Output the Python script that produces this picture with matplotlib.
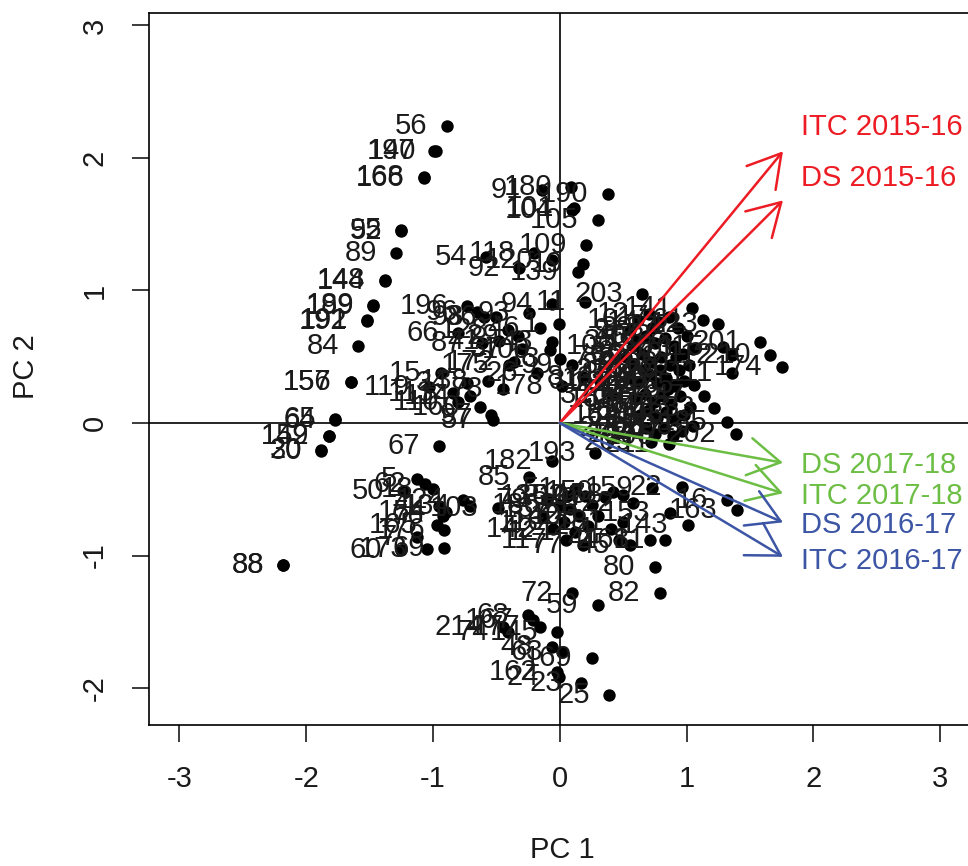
import matplotlib
matplotlib.use('Agg')
import matplotlib.pyplot as plt

plt.rcParams['font.family'] = ['Liberation Sans', 'DejaVu Sans']
plt.rcParams['axes.unicode_minus'] = False

# genotype scores (label, PC1, PC2), by region
upper_left = [('56', -0.89, 2.24), ('197', -0.99, 2.05), ('140', -0.98, 2.05),
              ('166', -1.07, 1.85), ('168', -1.07, 1.86), ('95', -1.25, 1.46),
              ('52', -1.25, 1.45), ('89', -1.29, 1.28), ('144', -1.38, 1.07),
              ('148', -1.38, 1.08), ('199', -1.47, 0.88), ('189', -1.47, 0.89),
              ('191', -1.52, 0.78), ('192', -1.52, 0.77), ('84', -1.59, 0.58),
              ('156', -1.65, 0.31), ('157', -1.65, 0.31), ('65', -1.77, 0.03),
              ('64', -1.77, 0.02), ('152', -1.82, -0.10), ('149', -1.82, -0.10),
              ('20', -1.88, -0.20), ('30', -1.88, -0.21), ('67', -0.95, -0.17),
              ('88', -2.18, -1.07), ('38', -2.18, -1.07)]

lower_left = [('50', -1.23, -0.51), ('5', -1.13, -0.42), ('62', -1.06, -0.46),
              ('18', -1.00, -0.50), ('71', -0.95, -0.63), ('154', -0.90, -0.67),
              ('124', -0.76, -0.58), ('134', -0.71, -0.63), ('103', -0.49, -0.64),
              ('165', -0.97, -0.77), ('176', -0.91, -0.81), ('7', -1.13, -0.86),
              ('60', -1.25, -0.96), ('173', -1.05, -0.95), ('69', -0.91, -0.94),
              ('76', -0.92, -0.70)]

middle = [('196', -0.73, 0.88), ('96', -0.65, 0.84), ('98', -0.60, 0.80),
          ('36', -0.50, 0.80), ('93', -0.24, 0.83), ('94', -0.06, 0.90),
          ('1', -0.01, 0.75), ('46', -0.16, 0.72), ('128', -0.41, 0.70),
          ('66', -0.80, 0.68), ('87', -0.61, 0.60), ('43', -0.06, 0.61),
          ('100', -0.08, 0.55), ('13', 0.00, 0.48), ('99', 0.10, 0.44),
          ('8', 0.18, 0.35), ('175', -0.40, 0.44), ('26', -0.18, 0.38),
          ('138', -0.57, 0.32), ('78', -0.45, 0.26), ('15', -0.94, 0.38),
          ('34', -0.73, 0.30), ('113', -0.84, 0.23), ('114', -0.71, 0.20),
          ('160', -0.63, 0.12), ('97', -0.54, 0.06), ('119', -1.03, 0.27),
          ('110', -0.80, 0.16), ('178', 0.02, 0.28), ('172', -0.36, 0.46),
          ('37', -0.30, 0.56), ('41', -0.48, 0.62), ('29', -0.33, 0.66),
          ('106', 0.58, 0.58), ('57', -0.53, 0.02), ('31', 0.32, 0.32),
          ('32', 0.41, 0.21)]

upper_mid = [('91', -0.14, 1.76), ('180', 0.09, 1.78), ('190', 0.38, 1.73),
             ('104', 0.10, 1.61), ('101', 0.11, 1.62), ('105', 0.30, 1.53),
             ('109', 0.21, 1.34), ('54', -0.58, 1.25), ('118', -0.20, 1.28),
             ('120', -0.06, 1.23), ('92', -0.32, 1.17), ('139', 0.14, 1.14),
             ('19', 0.18, 1.20), ('203', 0.65, 0.97), ('11', 0.20, 0.91)]

right_edge = [('141', 1.04, 0.87), ('61', 1.13, 0.78), ('123', 1.25, 0.75),
              ('201', 1.58, 0.61), ('210', 1.66, 0.51), ('174', 1.75, 0.42),
              ('115', 1.29, 0.57), ('112', 1.36, 0.51), ('111', 1.36, 0.38),
              ('55', 1.06, 0.29), ('47', 1.14, 0.20), ('33', 1.22, 0.11),
              ('185', 1.32, 0.01), ('202', 1.39, -0.08)]

right_blob = [('9', 0.55, 0.70), ('10', 0.62, 0.78), ('12', 0.70, 0.82), ('14', 0.78, 0.76),
              ('17', 0.86, 0.80), ('27', 0.93, 0.72), ('28', 1.00, 0.66), ('35', 0.60, 0.62),
              ('40', 0.68, 0.66), ('49', 0.75, 0.60), ('53', 0.83, 0.64), ('58', 0.90, 0.58),
              ('70', 0.97, 0.52), ('73', 1.05, 0.56), ('75', 0.52, 0.50), ('83', 0.58, 0.44),
              ('86', 0.65, 0.52), ('90', 0.72, 0.46), ('125', 0.80, 0.50), ('127', 0.87, 0.44),
              ('129', 0.94, 0.40), ('130', 1.02, 0.44), ('131', 0.55, 0.34), ('132', 0.62, 0.30),
              ('133', 0.70, 0.36), ('136', 0.77, 0.30), ('146', 0.84, 0.34), ('147', 0.91, 0.28),
              ('151', 0.98, 0.32), ('155', 0.60, 0.18), ('164', 0.67, 0.22), ('170', 0.74, 0.16),
              ('171', 0.81, 0.20), ('177', 0.88, 0.14), ('179', 0.95, 0.20), ('183', 1.03, 0.12),
              ('184', 0.63, 0.06), ('187', 0.70, 0.10), ('188', 0.77, 0.04), ('194', 0.84, 0.08),
              ('195', 0.91, 0.02), ('198', 0.98, 0.06), ('200', 0.68, -0.04), ('204', 0.75, -0.08),
              ('205', 0.82, -0.04), ('206', 0.89, -0.10), ('207', 0.96, -0.06), ('208', 1.05, -0.02),
              ('209', 0.72, -0.14), ('211', 0.86, -0.16), ('212', 0.79, 0.40), ('213', 0.66, 0.40),
              ('6', 0.92, 0.50), ('39', 0.73, 0.72), ('126', 0.85, 0.26)]

lower_right = [('193', 0.28, -0.23), ('182', -0.06, -0.29), ('85', -0.24, -0.41),
               ('135', 0.06, -0.55), ('51', 0.12, -0.50), ('102', 0.20, -0.55),
               ('137', 0.08, -0.65), ('42', 0.15, -0.70), ('21', 0.25, -0.62),
               ('116', 0.03, -0.75), ('121', 0.12, -0.82), ('2', 0.22, -0.78),
               ('142', -0.05, -0.80), ('117', 0.05, -0.88), ('108', 0.30, -0.70),
               ('107', 0.36, -0.56), ('150', 0.42, -0.52), ('158', 0.50, -0.54),
               ('181', 0.50, -0.75), ('44', 0.47, -0.88), ('45', 0.55, -0.92),
               ('161', 0.71, -0.88), ('81', 0.83, -0.88), ('159', 0.73, -0.49),
               ('22', 0.96, -0.48), ('153', 0.87, -0.68), ('143', 1.01, -0.77),
               ('16', 1.32, -0.58), ('163', 1.40, -0.66), ('80', 0.75, -1.09),
               ('82', 0.79, -1.28), ('122', 0.58, -0.60), ('4', 0.40, -0.80),
               ('3', -0.13, -0.70), ('77', 0.18, -0.92), ('79', -0.10, -0.58),
               ('186', 0.00, -0.62)]

bottom = [('72', 0.10, -1.28), ('59', 0.30, -1.37), ('68', -0.25, -1.45),
          ('167', -0.21, -1.49), ('177', -0.16, -1.54), ('214', -0.45, -1.54),
          ('74', -0.41, -1.58), ('145', -0.02, -1.58), ('48', -0.06, -1.69),
          ('63', 0.02, -1.73), ('169', 0.25, -1.77), ('162', -0.02, -1.88),
          ('24', -0.01, -1.92), ('23', 0.17, -1.96), ('25', 0.39, -2.05)]

# environment loading vectors
env_names = ['ITC 2015-16', 'DS 2015-16', 'DS 2017-18', 'ITC 2017-18', 'DS 2016-17', 'ITC 2016-17']
env_pc1 = [1.76, 1.76, 1.76, 1.76, 1.76, 1.76]
env_pc2 = [2.05, 1.68, -0.30, -0.53, -0.75, -1.01]
env_lab_y = [2.23, 1.85, -0.32, -0.55, -0.77, -1.04]
env_cols = ['#ED1C24', '#ED1C24', '#6DBE45', '#6DBE45', '#3C55A5', '#3C55A5']

pts = upper_left + lower_left + middle + upper_mid + right_edge + right_blob + lower_right + bottom
labs = [p[0] for p in pts]
pc1 = [p[1] for p in pts]
pc2 = [p[2] for p in pts]

fntsz = 21

fig = plt.figure(figsize=(9.68, 8.66), dpi=100)
ax = fig.add_axes([149/968, 141/866, 840/968, 712/866])
ax.set_xlim(-3.24, 3.385)
ax.set_ylim(-2.279, 3.094)

ax.axhline(0, color='black', lw=1.2, zorder=1)
ax.axvline(0, color='black', lw=1.2, zorder=1)

ax.scatter(pc1, pc2, s=80, c='black', linewidths=0, zorder=3)
for lab, x, y in zip(labs, pc1, pc2):
    ax.annotate(lab, (x, y), xytext=(-14, 0), textcoords='offset points',
                ha='right', va='center', fontsize=fntsz, color='#1a1a1a', zorder=4)

for nm, x, y, ly, col in zip(env_names, env_pc1, env_pc2, env_lab_y, env_cols):
    ax.annotate('', xy=(x, y), xytext=(0, 0),
                arrowprops=dict(arrowstyle='->,head_length=2.3,head_width=1.35',
                                mutation_scale=10, color=col, lw=1.8,
                                shrinkA=0, shrinkB=0), zorder=5)
    ax.text(1.90, ly, nm, color=col, fontsize=fntsz, ha='left', va='center', zorder=5)

ax.set_xticks(range(-3, 4))
ax.set_yticks(range(-2, 4))
ax.tick_params(length=12, width=1.2, pad=17, labelsize=fntsz, colors='#1a1a1a')
ax.tick_params(axis='y', labelrotation=90)
for t in ax.get_yticklabels():
    t.set_va('center')
for s in ax.spines.values():
    s.set_linewidth(1.2)

fig.text(562/968, 1 - 850/866, 'PC 1', ha='center', va='center', fontsize=fntsz, color='#1a1a1a')
fig.text(26/968, 1 - 367/866, 'PC 2', ha='center', va='center', rotation=90,
         fontsize=fntsz, color='#1a1a1a')

fig.savefig('out.png', dpi=100)
